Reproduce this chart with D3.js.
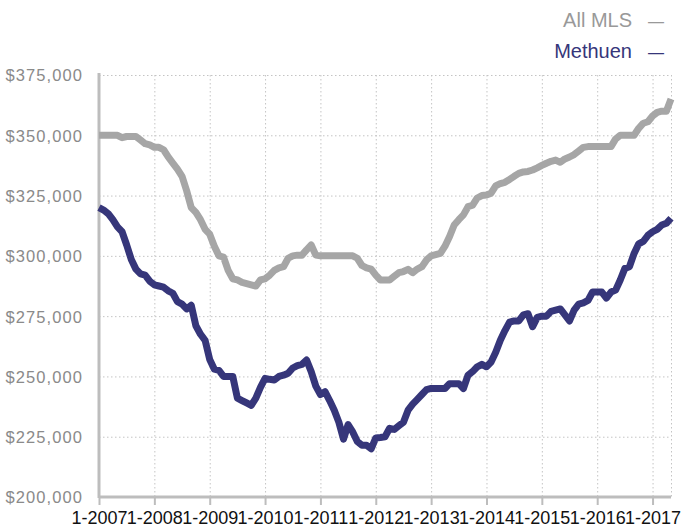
<!DOCTYPE html>
<html>
<head>
<meta charset="utf-8">
<script src="https://cdn.jsdelivr.net/npm/d3@7"></script>
<style>
body { margin: 0; background: #fff; }
svg { display: block; font-family: "Liberation Sans", Arial, sans-serif; }
.grid line { stroke: #c4c4c4; stroke-width: 1; stroke-dasharray: 1.5,2.5; }
.grid .domain { display: none; }
</style>
</head>
<body>
<script>
// monthly median prices, 1-2007 .. 5-2017
var allMls = [
	350000, 350000, 350000, 350000, 350000, 349000, 349500, 349500, 349500, 348000,
	346500, 346000, 345000, 345000, 344000, 341000, 338500, 336000, 333000, 327000,
	320000, 318000, 315000, 311000, 309000, 304000, 300000, 299500, 294000, 290500,
	290000, 289000, 288500, 288000, 287500, 290000, 290500, 292000, 294000, 295000,
	295500, 299000, 300000, 300300, 300300, 302500, 304500, 300300, 300000, 300000,
	300000, 300000, 300000, 300000, 300000, 300000, 299000, 296000, 295000, 294500,
	292000, 290000, 290000, 290000, 291500, 293000, 293500, 294400, 293000, 294500,
	295500, 298300, 300000, 300500, 301000, 304000, 308000, 312800, 315000, 317000,
	320400, 321000, 324000, 325000, 325200, 326000, 329000, 330000, 330500, 331700,
	333000, 334200, 334800, 335000, 335600, 336500, 337500, 338400, 339200, 339700,
	338800, 340200, 341000, 342000, 343500, 345000, 345300, 345300, 345300, 345300,
	345300, 345300, 348500, 350000, 350000, 350000, 350000, 352900, 355000, 355600,
	358000, 359500, 360000, 360000, 365000
];
var methuen = [
	320000, 319000, 317500, 315000, 312000, 310000, 304500, 298500, 294500, 292500,
	292000, 289500, 288000, 287500, 287000, 285500, 284500, 281000, 280000, 278000,
	279500, 271000, 267500, 265000, 257000, 253000, 252500, 250000, 250000, 250000,
	241000, 240000, 239000, 238000, 241000, 245500, 249200, 248800, 248500, 250000,
	250500, 251300, 253500, 254500, 255000, 256800, 252000, 246000, 242500, 243700,
	240000, 236000, 231000, 224000, 230000, 227000, 223000, 221500, 221500, 220000,
	224500, 224700, 225000, 228500, 228000, 229500, 231000, 236000, 238500, 240500,
	242500, 244500, 245000, 245000, 245000, 245000, 247000, 247000, 247000, 245000,
	250500, 252000, 254000, 255000, 254000, 256000, 260000, 265000, 269000, 272500,
	273000, 273000, 275500, 276000, 270600, 274500, 275000, 275000, 277000, 277500,
	278000, 275500, 273000, 277500, 280000, 280500, 281500, 285000, 285000, 285000,
	282500, 285000, 285800, 290000, 294800, 295500, 301000, 305000, 306000, 308500,
	310000, 311000, 312800, 313500, 315600
];
var yearLabels = ['1-2007', '1-2008', '1-2009', '1-2010', '1-2011', '1-2012',
	'1-2013', '1-2014', '1-2015', '1-2016', '1-2017'];
var yTicks = [200000, 225000, 250000, 275000, 300000, 325000, 350000, 375000];
var seriesNames = ['All MLS', 'Methuen'];
var seriesColors = ['#a6a6a6', '#36367a'];

var width = 681, height = 531;
var margin = {top: 75, right: 10, bottom: 34, left: 99};
var w = width - margin.left - margin.right;
var h = height - margin.top - margin.bottom;

var svg = d3.select('body').append('svg')
	.attr('width', width)
	.attr('height', height);

var g = svg.append('g')
	.attr('transform', 'translate(' + margin.left + ',' + margin.top + ')');

var x = d3.scaleLinear().domain([0, allMls.length - 1]).range([0, w]);
var y = d3.scaleLinear().domain([200000, 375000]).range([h, 0]);

var yearTicks = yearLabels.map(function(d, i) { return i * 12; });

// grid
g.append('g')
	.attr('class', 'grid')
	.call(d3.axisLeft(y).tickValues(yTicks).tickSize(-w).tickFormat(''));
g.append('g')
	.attr('class', 'grid')
	.call(d3.axisBottom(x).tickValues(yearTicks.concat([allMls.length - 1])).tickSize(h).tickFormat(''));

// y labels
var yAxis = g.append('g')
	.call(d3.axisLeft(y).tickValues(yTicks).tickSize(0).tickPadding(16).tickFormat(d3.format('$,')));
yAxis.select('.domain').remove();
yAxis.selectAll('text')
	.attr('fill', '#8a8a8a')
	.style('font-size', '16.5px')
	.style('letter-spacing', '1.1px')
	.attr('dy', '0.36em');

// x axis
var xAxis = g.append('g')
	.attr('transform', 'translate(0,' + h + ')')
	.call(d3.axisBottom(x).tickValues(yearTicks).tickSize(8).tickPadding(6)
		.tickFormat(function(d, i) { return yearLabels[i]; }));
xAxis.select('.domain')
	.attr('stroke', '#bdbdbd')
	.attr('stroke-width', 3)
	.attr('d', 'M0,0H' + w);
xAxis.selectAll('.tick line').attr('stroke', '#bdbdbd').attr('stroke-width', 2);
xAxis.selectAll('text')
	.attr('fill', '#111')
	.style('font-size', '18px');

// left axis line
g.append('line')
	.attr('x1', 0).attr('x2', 0)
	.attr('y1', -2).attr('y2', h + 1)
	.attr('stroke', '#bdbdbd')
	.attr('stroke-width', 3);

var line = d3.line()
	.x(function(d, i) { return x(i); })
	.y(function(d) { return y(d); });

[allMls, methuen].forEach(function(series, k) {
	g.append('path')
		.datum(series)
		.attr('fill', 'none')
		.attr('stroke', seriesColors[k])
		.attr('stroke-width', 7)
		.attr('stroke-linejoin', 'round')
		.attr('d', line);
});

// legend
var legend = svg.append('g');
seriesNames.forEach(function(name, k) {
	legend.append('text')
		.attr('x', 632)
		.attr('y', 27 + k * 31)
		.attr('text-anchor', 'end')
		.attr('fill', k === 0 ? '#999' : '#36367a')
		.style('font-size', '20px')
		.text(name);
	legend.append('text')
		.attr('x', 648)
		.attr('y', 27 + k * 31)
		.attr('fill', k === 0 ? '#999' : '#36367a')
		.style('font-size', '16px')
		.text('—');
});
</script>
</body>
</html>
